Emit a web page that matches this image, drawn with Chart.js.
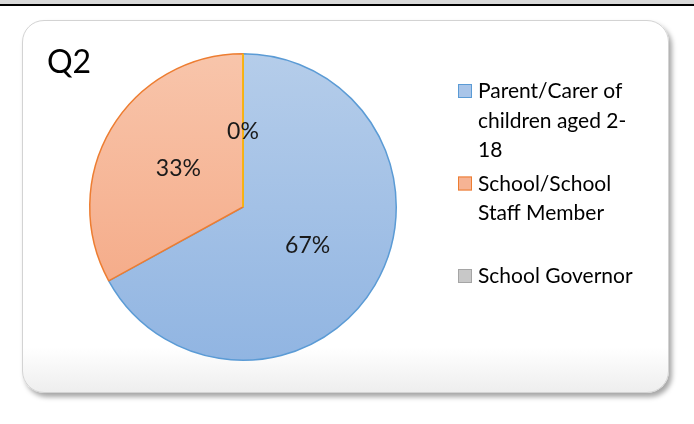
<!DOCTYPE html>
<html lang="en">
<head>
<meta charset="UTF-8" />
<meta name="viewport" content="width=device-width, initial-scale=1.0" />
<title>Q2</title>
<script src="https://cdn.jsdelivr.net/npm/chart.js"></script>
<style>
  html, body { margin: 0; padding: 0; background: #fff; }
  body { width: 694px; height: 424px; position: relative; overflow: hidden; }
  .faixa { position: absolute; left: 0; top: 0; width: 694px; height: 4px; background: #d9d9d9; }
  .linha { position: absolute; left: 0; top: 4px; width: 694px; height: 2px; background: #000; }
  .cartao {
    position: absolute; left: 22px; top: 20px; width: 645px; height: 371px;
    border: 1.5px solid #d3d3d3; border-radius: 22px;
    background: linear-gradient(#fff 88%, #eeeeee);
    box-shadow: 3px 4px 5px rgba(0, 0, 0, 0.35);
  }
  #grafico { position: absolute; left: 0; top: 0; }
</style>
</head>
<body>
  <div class="faixa"></div>
  <div class="linha"></div>
  <div class="cartao"></div>
  <canvas id="grafico" width="694" height="424"></canvas>

<script>
  // dados
  const titulo = 'Q2';
  const categorias = [
    ['Parent/Carer of', 'children aged 2-', '18'],
    ['School/School', 'Staff Member'],
    ['School Governor']
  ];
  const percentuais = [67, 33, 0];

  const coresTopo = ['#b5cdea', '#f8c5ab', '#cfcfcf'];
  const coresBase = ['#91b5e2', '#f4a47f', '#b5b5b5'];
  const coresBorda = ['#5b9bd5', '#ed7d31', '#ffc000'];
  const coresLegenda = ['#a9c5e9', '#f6b394', '#c8c8c8'];
  const bordasLegenda = ['#5b9bd5', '#ed7d31', '#a5a5a5'];

  function preenchimento(ctx) {
    const area = ctx.chart.chartArea;
    const i = ctx.dataIndex;
    if (!area) return coresTopo[i];
    const g = ctx.chart.ctx.createLinearGradient(0, area.top, 0, area.bottom);
    g.addColorStop(0, coresTopo[i]);
    g.addColorStop(1, coresBase[i]);
    return g;
  }

  const desenhos = {
    id: 'desenhos',
    afterDatasetsDraw(chart) {
      const c = chart.ctx;
      const arcos = chart.getDatasetMeta(0).data;

      // linha da fatia de 0%
      arcos.forEach((a, i) => {
        if (percentuais[i] !== 0) return;
        const p = a.getProps(['x', 'y', 'startAngle', 'outerRadius'], true);
        c.save();
        c.strokeStyle = '#ffc000';
        c.lineWidth = 1.5;
        c.beginPath();
        c.moveTo(p.x, p.y);
        c.lineTo(p.x + Math.cos(p.startAngle) * p.outerRadius, p.y + Math.sin(p.startAngle) * p.outerRadius);
        c.stroke();
        c.restore();
      });

      // rótulos de porcentagem
      c.save();
      c.font = '23px Lato';
      c.fillStyle = '#1a1a1a';
      c.textAlign = 'center';
      c.textBaseline = 'middle';
      arcos.forEach((a, i) => {
        const p = a.getProps(['x', 'y', 'startAngle', 'endAngle', 'outerRadius'], true);
        const meio = (p.startAngle + p.endAngle) / 2;
        const r = p.outerRadius * 0.49;
        c.fillText(percentuais[i] + '%', p.x + Math.cos(meio) * r, p.y + Math.sin(meio) * r);
      });
      c.restore();

      // título
      c.save();
      c.font = '32px Lato';
      c.fillStyle = '#000';
      c.textBaseline = 'alphabetic';
      c.fillText(titulo, 47, 73);
      c.restore();

      // legenda
      c.save();
      c.font = '21px Lato';
      c.fillStyle = '#000';
      c.textBaseline = 'alphabetic';
      categorias.forEach((linhas, i) => {
        const topo = 84 + i * 92.5;
        c.fillStyle = coresLegenda[i];
        c.fillRect(458, topo, 14, 14);
        c.strokeStyle = bordasLegenda[i];
        c.lineWidth = 1;
        c.strokeRect(458.5, topo + 0.5, 13, 13);
        c.fillStyle = '#000';
        linhas.forEach((t, j) => c.fillText(t, 478, topo + 14 + j * 29.5));
      });
      c.restore();
    }
  };

  new Chart(document.getElementById('grafico'), {
    type: 'pie',
    data: {
      labels: categorias,
      datasets: [{
        data: percentuais,
        backgroundColor: preenchimento,
        borderColor: coresBorda,
        borderWidth: 1.5,
        hoverOffset: 0
      }]
    },
    options: {
      responsive: false,
      animation: false,
      events: [],
      layout: { padding: { left: 89, top: 53, right: 297, bottom: 63 } },
      plugins: {
        legend: { display: false },
        tooltip: { enabled: false },
        title: { display: false }
      }
    },
    plugins: [desenhos]
  });
</script>
</body>
</html>
